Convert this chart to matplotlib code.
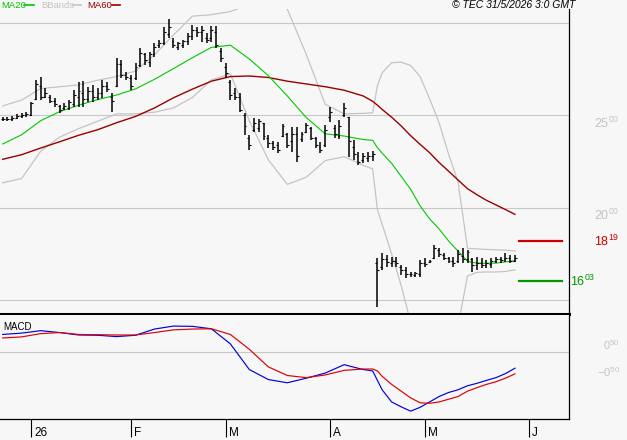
import matplotlib
matplotlib.use("Agg")
import matplotlib.pyplot as plt
import matplotlib.transforms as mtransforms
from matplotlib.lines import Line2D
import numpy as np
import pandas as pd

plt.rcParams['font.family'] = ['Liberation Sans', 'DejaVu Sans']
plt.rcParams['mathtext.fontset'] = 'custom'
plt.rcParams['mathtext.rm'] = 'Liberation Sans'
plt.rcParams['mathtext.it'] = 'Liberation Sans:italic'

# ---------------- data ----------------
holidays = ["2025-12-25", "2025-12-26", "2026-01-01", "2026-04-03", "2026-04-06", "2026-05-01"]
dates = pd.bdate_range("2025-12-22", "2026-05-29")
dates = dates[~dates.isin(pd.to_datetime(holidays))]

opens = [24.80, 24.78, 24.80, 24.88, 24.95, 25.00, 25.00, 25.90, 26.60, 26.00,
         26.00, 25.80, 25.50, 25.40, 25.40, 25.60, 26.00, 26.20, 25.90, 26.30,
         26.00, 26.20, 26.60, 26.00, 26.60, 27.80, 27.20, 27.00, 27.00, 27.70,
         28.30, 27.90, 28.30, 28.80, 28.90, 29.40, 29.00, 28.70, 28.80, 29.00,
         29.30, 29.60, 29.50, 29.20, 29.20, 29.50, 28.50, 27.60, 26.80, 26.20,
         26.00, 25.00, 23.80, 24.20, 24.30, 24.60, 23.80, 23.50, 23.40, 23.90,
         24.00, 23.60, 24.00, 23.70, 24.10, 24.30, 23.80, 23.30, 23.40, 24.90,
         24.30, 23.90, 25.00, 24.90, 23.30, 22.80, 22.60, 22.70, 22.80, 17.00,
         16.80, 17.20, 17.00, 17.10, 16.80, 16.60, 16.40, 16.35, 16.40, 17.00,
         17.05, 17.30, 17.70, 17.45, 17.30, 17.10, 17.10, 17.40, 17.20, 17.20,
         16.90, 17.00, 16.90, 16.95, 17.10, 17.20, 17.20, 17.30, 17.10]
highs = [24.93, 24.91, 24.98, 25.06, 25.11, 25.16, 25.74, 26.91, 27.06, 26.46,
         26.10, 25.92, 25.56, 25.67, 25.83, 26.37, 26.82, 26.88, 26.55, 26.64,
         26.46, 26.91, 26.82, 26.19, 28.09, 28.00, 27.36, 27.18, 27.82, 28.63,
         28.36, 28.45, 28.90, 29.08, 29.80, 30.22, 29.17, 28.99, 29.08, 29.44,
         29.89, 29.80, 29.85, 29.44, 29.84, 29.84, 28.63, 27.82, 26.91, 26.46,
         26.19, 25.11, 23.94, 24.84, 24.79, 24.60, 23.94, 23.63, 23.57, 24.53,
         24.03, 24.39, 24.39, 24.12, 24.60, 24.37, 23.84, 23.57, 24.48, 25.47,
         24.48, 24.75, 25.65, 24.93, 23.67, 23.03, 22.98, 23.03, 23.09, 17.26,
         17.53, 17.44, 17.35, 17.35, 16.90, 16.81, 16.53, 16.53, 17.17, 17.26,
         17.17, 17.98, 17.80, 17.56, 17.35, 17.35, 17.71, 17.80, 17.71, 17.26,
         17.35, 17.26, 17.17, 17.26, 17.35, 17.35, 17.53, 17.44, 17.44]
lows = [24.71, 24.69, 24.71, 24.80, 24.84, 24.90, 24.98, 25.83, 25.83, 25.92,
        25.65, 25.47, 25.11, 25.29, 25.29, 25.47, 25.47, 25.47, 25.74, 25.74,
        25.83, 25.92, 26.28, 25.20, 26.55, 27.00, 26.91, 26.37, 26.91, 27.63,
        27.73, 27.63, 28.18, 28.63, 28.81, 29.17, 28.63, 28.54, 28.63, 28.81,
        29.08, 29.26, 28.99, 28.90, 28.99, 28.63, 27.90, 27.00, 25.83, 25.83,
        25.20, 23.94, 23.12, 24.12, 24.12, 23.67, 23.22, 23.12, 22.98, 23.81,
        23.22, 23.03, 22.49, 23.57, 24.03, 23.67, 23.22, 22.98, 23.30, 24.66,
        23.76, 23.70, 24.93, 22.76, 22.58, 22.31, 22.40, 22.49, 22.55, 14.64,
        16.63, 16.81, 16.81, 16.81, 16.36, 16.18, 16.26, 16.26, 16.23, 16.81,
        16.99, 17.20, 17.35, 17.17, 16.99, 16.81, 16.99, 16.99, 16.99, 16.53,
        16.63, 16.72, 16.72, 16.72, 16.99, 16.99, 17.08, 16.99, 17.08]
closes = [24.82, 24.80, 24.88, 24.95, 25.00, 25.05, 25.65, 26.70, 26.00, 26.20,
          25.80, 25.60, 25.30, 25.50, 25.70, 26.10, 26.30, 25.90, 26.30, 26.00,
          26.20, 26.60, 26.40, 25.80, 27.80, 27.20, 27.10, 26.60, 27.60, 28.40,
          28.00, 28.30, 28.70, 28.90, 29.50, 29.80, 28.80, 28.90, 29.00, 29.30,
          29.60, 29.50, 29.60, 29.10, 29.60, 28.80, 28.10, 27.30, 26.10, 26.00,
          25.30, 24.40, 23.40, 24.60, 24.70, 23.90, 23.50, 23.30, 23.10, 24.40,
          23.40, 24.00, 22.80, 24.00, 24.50, 23.80, 23.40, 23.10, 24.20, 25.20,
          24.00, 24.40, 25.40, 23.60, 22.90, 22.50, 22.80, 22.80, 22.90, 16.63,
          17.20, 17.05, 17.10, 17.00, 16.60, 16.40, 16.40, 16.45, 17.00, 16.95,
          17.10, 17.80, 17.50, 17.30, 17.10, 17.00, 17.50, 17.20, 17.60, 16.90,
          17.00, 16.90, 17.00, 17.10, 17.20, 17.15, 17.30, 17.10, 17.30]

# indicator lines, read at these bar indices
line_idx = list(range(0, 77, 4)) + [78, 79, 80] + list(range(82, 109, 2))
ma20 = [23.45, 23.95, 24.71, 25.20, 25.55, 25.85, 26.10, 26.43, 26.95, 27.53,
        28.12, 28.68, 28.80, 28.05, 27.15, 26.05, 24.88, 24.00, 23.88, 23.69,
        23.65, 23.25, 22.95, 22.40, 21.70, 21.00, 20.10, 19.40, 18.85, 18.20,
        17.65, 17.10, 17.00, 16.99, 17.00, 17.07, 17.13]
ma60 = [22.62, 22.87, 23.23, 23.57, 23.92, 24.22, 24.60, 24.94, 25.40, 25.95,
        26.42, 26.85, 27.10, 27.13, 27.05, 26.85, 26.70, 26.55, 26.36, 26.05,
        25.76, 25.55, 25.32, 24.90, 24.43, 23.90, 23.43, 22.98, 22.45, 21.98,
        21.50, 21.03, 20.70, 20.40, 20.15, 19.90, 19.64]
bb_upper = [25.51, 25.83, 26.45, 26.55, 26.65, 26.90, 27.10, 27.40, 28.28, 29.35,
            30.37, 30.45, 30.62, 31.00, 31.20, 30.75, 28.30, 25.60, 25.08, 25.11,
            25.14, 26.60, 27.30, 27.85, 27.88, 27.70, 27.10, 25.90, 24.60, 22.90,
            21.40, 17.80, 17.77, 17.74, 17.72, 17.70, 17.66]
bb_lower = [21.35, 21.58, 23.06, 23.82, 24.28, 24.68, 25.08, 25.08, 25.17, 25.40,
            25.97, 26.92, 27.25, 24.70, 22.60, 21.26, 21.65, 22.55, 22.76, 22.30,
            22.10, 19.90, 19.10, 17.50, 15.80, 13.80, 13.00, 12.60, 12.50, 12.80,
            13.60, 16.30, 16.50, 16.52, 16.52, 16.55, 16.63]
macd = [0.65, 0.70, 0.79, 0.72, 0.63, 0.62, 0.57, 0.62, 0.85, 0.96,
        0.95, 0.86, 0.30, -0.65, -1.02, -1.14, -0.97, -0.78, -0.47, -0.65,
        -0.70, -1.05, -1.40, -1.85, -2.03, -2.19, -2.05, -1.85, -1.65, -1.50,
        -1.40, -1.25, -1.16, -1.05, -0.95, -0.80, -0.60]
signal = [0.52, 0.56, 0.68, 0.72, 0.65, 0.64, 0.63, 0.63, 0.72, 0.82,
          0.85, 0.86, 0.65, 0.10, -0.55, -0.87, -0.95, -0.85, -0.68, -0.63,
          -0.63, -0.70, -0.90, -1.20, -1.45, -1.70, -1.88, -1.90, -1.85, -1.75,
          -1.65, -1.45, -1.32, -1.20, -1.10, -0.97, -0.81]

resistance = 18.19
support = 16.03
price_grid = [15, 20, 25, 30]
price_labels = [25, 20]
macd_labels = [0.5, -0.5]
month_labels = ["26", "F", "M", "A", "M", "J"]
month_starts = ["2026-01-01", "2026-02-01", "2026-03-01", "2026-04-01", "2026-05-01", "2026-06-01"]

# ---------------- figure ----------------
BG = '#f7f7f7'
GRID = '#c8c8c8'
W, H = 627, 440
fig = plt.figure(figsize=(W / 100, H / 100), dpi=100, facecolor=BG)

def fx(px):
    return px / W

def fy(py):
    return 1 - py / H

ax = fig.add_axes([0, fy(314.5), fx(569), (314.5 - 9) / H], facecolor=BG)
axm = fig.add_axes([0, fy(419), fx(569), (419 - 314.5) / H], facecolor=BG)

x = np.arange(len(closes))
xl = (-2.7 / 4.743, (569 - 2.7) / 4.743)
ys = 18.47
ax.set_xlim(*xl)
ax.set_ylim(30 - (314.5 - 23) / ys, 30 + (23 - 9) / ys)
axm.set_xlim(*xl)
axm.set_ylim((352 - 419) / 27, (352 - 314.5) / 27)

for g in price_grid:
    ax.axhline(g, color=GRID, lw=0.8, zorder=0)
axm.axhline(0, color=GRID, lw=0.8, zorder=0)

# Bollinger bands and moving averages
ax.plot(line_idx, bb_upper, color='#c4c4c4', lw=0.9, zorder=1)
ax.plot(line_idx, bb_lower, color='#c4c4c4', lw=0.9, zorder=1)
ax.plot(line_idx, ma60, color='#990000', lw=1.0, zorder=2)
ax.plot(line_idx, ma20, color='#00c800', lw=0.8, zorder=2)

# OHLC bars
ax.vlines(x, lows, highs, color='black', lw=1.1, zorder=3)
ax.hlines(opens, x - 0.4, x, color='black', lw=0.8, zorder=3)
ax.hlines(closes, x, x + 0.4, color='black', lw=0.8, zorder=3)

# support / resistance markers
ax.axhline(resistance, xmin=519 / 569, xmax=562 / 569, color='#cc0000', lw=1.6)
ax.axhline(support, xmin=519 / 569, xmax=562 / 569, color='#009900', lw=1.6)

# MACD
axm.plot(line_idx, macd, color='#0000dd', lw=0.85)
axm.plot(line_idx, signal, color='#dd0000', lw=0.85)

# spines / ticks
for a in (ax, axm):
    a.spines['left'].set_visible(False)
    a.spines['top'].set_visible(False)
    a.spines['right'].set_color('black')
    a.spines['right'].set_linewidth(0.9)
    a.tick_params(left=False, labelleft=False)
ax.spines['bottom'].set_color('black')
ax.spines['bottom'].set_linewidth(2.2)
ax.tick_params(bottom=False, labelbottom=False)
axm.spines['bottom'].set_color('black')
axm.spines['bottom'].set_linewidth(0.9)

# month ticks
last = len(dates) - 1
tick_pos = []
for ms in pd.to_datetime(month_starts):
    inm = np.where((dates.year == ms.year) & (dates.month == ms.month))[0]
    if len(inm):
        tick_pos.append(inm[0])
    else:
        tick_pos.append(last + (ms - dates[last]).days)
axm.set_xticks(tick_pos)
axm.set_xticklabels([])
axm.tick_params(axis='x', direction='out', length=13, width=0.8, color='black', labelbottom=False)
lab_tr = mtransforms.offset_copy(axm.get_xaxis_transform(), fig=fig, x=3, y=-8, units='dots')
for p, lab in zip(tick_pos, month_labels):
    axm.text(p, 0, lab, transform=lab_tr, ha='left', va='top', fontsize=8.5, color='black')

# right-side labels
tr_main = mtransforms.blended_transform_factory(fig.transFigure, ax.transData)
def supfmt(v):
    whole = int(abs(v))
    dec = int(round((abs(v) - whole) * 100))
    sign = '-' if v < 0 else ''
    return r"$\mathregular{%s%d^{%02d}}$" % (sign, whole, dec)

for v in price_labels:
    fig.text(fx(594), v, supfmt(v), transform=tr_main, ha='left', va='top',
             fontsize=9, color='#c4c4c4')
fig.text(fx(594), resistance, supfmt(resistance), transform=tr_main, ha='left',
         va='center', fontsize=9, color='#cc0000')
fig.text(fx(570), support, supfmt(support), transform=tr_main, ha='left',
         va='center', fontsize=9, color='#009900')

tr_macd = mtransforms.blended_transform_factory(fig.transFigure, axm.transData)
for v in macd_labels:
    fig.text(fx(620), v, supfmt(v), transform=tr_macd, ha='right', va='top',
             fontsize=8, color='#c4c4c4')

axm.text(fx(3) / fx(569), 1 - (327 - 314.5) / (419 - 314.5), "MACD",
         transform=axm.transAxes, ha='left', va='center', fontsize=7, color='black')

# legend at top
ly = fy(5.5)
fig.text(fx(1), ly, "MA20", color='#00c800', fontsize=6.8, va='center', ha='left')
fig.add_artist(Line2D([fx(24), fx(34)], [ly, ly], color='#00c800', lw=1.2))
fig.text(fx(41), ly, "BBands", color='#c4c4c4', fontsize=6.8, va='center', ha='left')
fig.add_artist(Line2D([fx(73), fx(81)], [ly, ly], color='#c4c4c4', lw=1.2))
fig.text(fx(87), ly, "MA60", color='#990000', fontsize=6.8, va='center', ha='left')
fig.add_artist(Line2D([fx(112), fx(120)], [ly, ly], color='#990000', lw=1.2))

fig.text(fx(575), ly, "\u00a9 TEC 31/5/2026 3:0 GMT", color='black', fontsize=7.5,
         style='italic', va='center', ha='right')

fig.savefig("out.png", dpi=100, facecolor=BG)
